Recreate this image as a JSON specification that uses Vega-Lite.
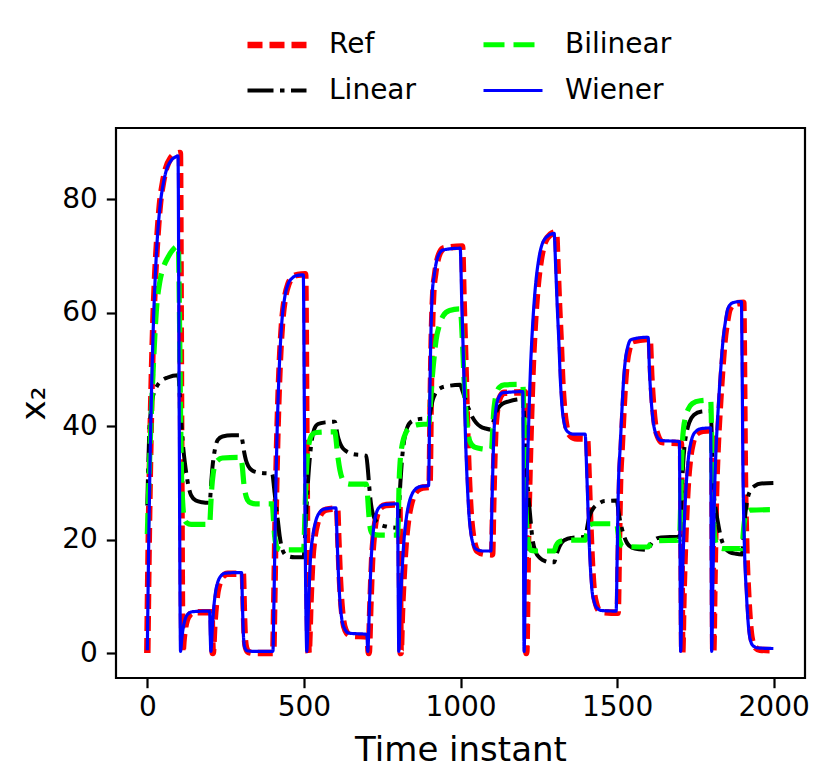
{
  "$schema": "https://vega.github.io/schema/vega-lite/v6.json",
  "description": "x2 trajectories: Ref, Linear, Bilinear and Wiener models",
  "width": 689,
  "height": 550,
  "autosize": {"type": "none"},
  "padding": {"left": 116, "top": 128, "right": 25, "bottom": 106},
  "background": "white",
  "data": {
    "values": [
      {"s":"Ref","t":0,"v":0},{"s":"Ref","t":5,"v":21.5},{"s":"Ref","t":10,"v":37.5},{"s":"Ref","t":15,"v":50},{"s":"Ref","t":20,"v":59.5},{"s":"Ref","t":25,"v":66.5},{"s":"Ref","t":30,"v":71.5},{"s":"Ref","t":40,"v":79},{"s":"Ref","t":50,"v":83},{"s":"Ref","t":60,"v":85.5},{"s":"Ref","t":75,"v":87.3},{"s":"Ref","t":90,"v":88},{"s":"Ref","t":104,"v":88.2},
      {"s":"Ref","t":108,"v":40},{"s":"Ref","t":111,"v":5},{"s":"Ref","t":112,"v":0},{"s":"Ref","t":116,"v":2.5},{"s":"Ref","t":121,"v":4.6},{"s":"Ref","t":126,"v":5.8},{"s":"Ref","t":136,"v":6.8},{"s":"Ref","t":150,"v":7.2},{"s":"Ref","t":205,"v":7.2},
      {"s":"Ref","t":207,"v":3},{"s":"Ref","t":209,"v":0},{"s":"Ref","t":214,"v":5},{"s":"Ref","t":219,"v":8.5},{"s":"Ref","t":224,"v":10.8},{"s":"Ref","t":231,"v":12.4},{"s":"Ref","t":241,"v":13.5},{"s":"Ref","t":256,"v":14},{"s":"Ref","t":305,"v":14},
      {"s":"Ref","t":308,"v":8},{"s":"Ref","t":311,"v":3},{"s":"Ref","t":315,"v":1},{"s":"Ref","t":323,"v":0.2},{"s":"Ref","t":340,"v":0},{"s":"Ref","t":402,"v":0},
      {"s":"Ref","t":405,"v":8},{"s":"Ref","t":410,"v":25},{"s":"Ref","t":415,"v":38},{"s":"Ref","t":420,"v":47},{"s":"Ref","t":425,"v":53.5},{"s":"Ref","t":430,"v":58},{"s":"Ref","t":440,"v":62.8},{"s":"Ref","t":450,"v":65},{"s":"Ref","t":465,"v":66.3},{"s":"Ref","t":480,"v":66.7},{"s":"Ref","t":504,"v":66.8},
      {"s":"Ref","t":508,"v":38},{"s":"Ref","t":511,"v":15},{"s":"Ref","t":514,"v":2},{"s":"Ref","t":515,"v":0},{"s":"Ref","t":521,"v":9},{"s":"Ref","t":527,"v":16.5},{"s":"Ref","t":534,"v":20.5},{"s":"Ref","t":543,"v":23},{"s":"Ref","t":556,"v":24.7},{"s":"Ref","t":571,"v":25.3},{"s":"Ref","t":606,"v":25.5},
      {"s":"Ref","t":610,"v":20},{"s":"Ref","t":615,"v":13},{"s":"Ref","t":620,"v":8.5},{"s":"Ref","t":625,"v":5.8},{"s":"Ref","t":633,"v":4},{"s":"Ref","t":648,"v":3.1},{"s":"Ref","t":704,"v":2.9},
      {"s":"Ref","t":707,"v":0},{"s":"Ref","t":712,"v":8},{"s":"Ref","t":718,"v":16.7},{"s":"Ref","t":723,"v":20.5},{"s":"Ref","t":728,"v":23},{"s":"Ref","t":735,"v":24.7},{"s":"Ref","t":744,"v":25.6},{"s":"Ref","t":763,"v":26.1},{"s":"Ref","t":805,"v":26.2},
      {"s":"Ref","t":807,"v":12},{"s":"Ref","t":809,"v":0},{"s":"Ref","t":813,"v":7},{"s":"Ref","t":818,"v":13},{"s":"Ref","t":825,"v":19.3},{"s":"Ref","t":833,"v":23.6},{"s":"Ref","t":841,"v":26},{"s":"Ref","t":851,"v":27.8},{"s":"Ref","t":862,"v":28.7},{"s":"Ref","t":880,"v":29.2},{"s":"Ref","t":901,"v":29.3},
      {"s":"Ref","t":905,"v":45},{"s":"Ref","t":908,"v":55},{"s":"Ref","t":913,"v":63.5},{"s":"Ref","t":919,"v":66.8},{"s":"Ref","t":927,"v":69.4},{"s":"Ref","t":935,"v":70.7},{"s":"Ref","t":948,"v":71.4},{"s":"Ref","t":1005,"v":71.7},
      {"s":"Ref","t":1010,"v":62},{"s":"Ref","t":1017,"v":48.5},{"s":"Ref","t":1022,"v":38},{"s":"Ref","t":1028,"v":29.3},{"s":"Ref","t":1033,"v":24.3},{"s":"Ref","t":1039,"v":21},{"s":"Ref","t":1046,"v":19},{"s":"Ref","t":1054,"v":18},{"s":"Ref","t":1076,"v":17.5},{"s":"Ref","t":1101,"v":17.4},
      {"s":"Ref","t":1104,"v":25},{"s":"Ref","t":1107,"v":32},{"s":"Ref","t":1111,"v":39},{"s":"Ref","t":1116,"v":42.5},{"s":"Ref","t":1124,"v":44.8},{"s":"Ref","t":1139,"v":45.9},{"s":"Ref","t":1206,"v":46},
      {"s":"Ref","t":1208,"v":22},{"s":"Ref","t":1210,"v":0},{"s":"Ref","t":1215,"v":17.8},{"s":"Ref","t":1220,"v":31},{"s":"Ref","t":1225,"v":41},{"s":"Ref","t":1230,"v":49.5},{"s":"Ref","t":1237,"v":57.5},{"s":"Ref","t":1246,"v":64.5},{"s":"Ref","t":1257,"v":69.5},{"s":"Ref","t":1269,"v":72.4},{"s":"Ref","t":1287,"v":73.8},{"s":"Ref","t":1305,"v":74.2},
      {"s":"Ref","t":1310,"v":68},{"s":"Ref","t":1315,"v":61},{"s":"Ref","t":1320,"v":55},{"s":"Ref","t":1325,"v":48},{"s":"Ref","t":1331,"v":43},{"s":"Ref","t":1338,"v":40},{"s":"Ref","t":1347,"v":38.6},{"s":"Ref","t":1365,"v":37.9},{"s":"Ref","t":1404,"v":37.8},
      {"s":"Ref","t":1409,"v":31.5},{"s":"Ref","t":1414,"v":23.5},{"s":"Ref","t":1419,"v":16.7},{"s":"Ref","t":1425,"v":11.3},{"s":"Ref","t":1433,"v":8.7},{"s":"Ref","t":1441,"v":7.6},{"s":"Ref","t":1457,"v":7.2},{"s":"Ref","t":1502,"v":7.1},
      {"s":"Ref","t":1505,"v":16},{"s":"Ref","t":1509,"v":29},{"s":"Ref","t":1515,"v":36.5},{"s":"Ref","t":1520,"v":42.3},{"s":"Ref","t":1525,"v":47.3},{"s":"Ref","t":1531,"v":51.3},{"s":"Ref","t":1539,"v":53.7},{"s":"Ref","t":1550,"v":55},{"s":"Ref","t":1604,"v":55.4},
      {"s":"Ref","t":1609,"v":49},{"s":"Ref","t":1614,"v":44.5},{"s":"Ref","t":1620,"v":40.8},{"s":"Ref","t":1630,"v":38.3},{"s":"Ref","t":1644,"v":37.2},{"s":"Ref","t":1704,"v":37},
      {"s":"Ref","t":1706,"v":18},{"s":"Ref","t":1708,"v":0},{"s":"Ref","t":1712,"v":10},{"s":"Ref","t":1717,"v":19},{"s":"Ref","t":1725,"v":29},{"s":"Ref","t":1733,"v":34.3},{"s":"Ref","t":1741,"v":36.9},{"s":"Ref","t":1754,"v":38.7},{"s":"Ref","t":1774,"v":39.2},{"s":"Ref","t":1804,"v":39.3},
      {"s":"Ref","t":1805.5,"v":18},{"s":"Ref","t":1807,"v":0},{"s":"Ref","t":1811,"v":13},{"s":"Ref","t":1816,"v":28},{"s":"Ref","t":1821,"v":36},{"s":"Ref","t":1827,"v":42.3},{"s":"Ref","t":1834,"v":48.5},{"s":"Ref","t":1843,"v":55},{"s":"Ref","t":1851,"v":58.4},{"s":"Ref","t":1859,"v":60.6},{"s":"Ref","t":1874,"v":61.6},{"s":"Ref","t":1903,"v":61.8},
      {"s":"Ref","t":1905,"v":52},{"s":"Ref","t":1908,"v":32},{"s":"Ref","t":1912,"v":20},{"s":"Ref","t":1919,"v":10},{"s":"Ref","t":1925,"v":4.8},{"s":"Ref","t":1930,"v":2.5},{"s":"Ref","t":1940,"v":1.1},{"s":"Ref","t":1955,"v":0.6},{"s":"Ref","t":1999,"v":0.5},

      {"s":"Linear","t":0,"v":26},{"s":"Linear","t":3,"v":33},{"s":"Linear","t":6,"v":38.5},{"s":"Linear","t":10,"v":42},{"s":"Linear","t":15,"v":44.5},{"s":"Linear","t":20,"v":45.7},{"s":"Linear","t":30,"v":47},{"s":"Linear","t":45,"v":48},{"s":"Linear","t":65,"v":48.6},{"s":"Linear","t":99,"v":49},
      {"s":"Linear","t":105,"v":44},{"s":"Linear","t":110,"v":39.5},{"s":"Linear","t":115,"v":36},{"s":"Linear","t":120,"v":33.5},{"s":"Linear","t":125,"v":31.5},{"s":"Linear","t":132,"v":29.3},{"s":"Linear","t":140,"v":27.8},{"s":"Linear","t":155,"v":26.9},{"s":"Linear","t":175,"v":26.6},{"s":"Linear","t":199,"v":26.5},
      {"s":"Linear","t":204,"v":30},{"s":"Linear","t":208,"v":32.8},{"s":"Linear","t":212,"v":34.6},{"s":"Linear","t":218,"v":36.5},{"s":"Linear","t":225,"v":37.6},{"s":"Linear","t":240,"v":38.2},{"s":"Linear","t":270,"v":38.4},{"s":"Linear","t":299,"v":38.4},
      {"s":"Linear","t":305,"v":37},{"s":"Linear","t":310,"v":35.2},{"s":"Linear","t":315,"v":34},{"s":"Linear","t":322,"v":33},{"s":"Linear","t":335,"v":32.2},{"s":"Linear","t":360,"v":31.8},{"s":"Linear","t":399,"v":31.6},
      {"s":"Linear","t":405,"v":29},{"s":"Linear","t":410,"v":26.5},{"s":"Linear","t":417,"v":23.3},{"s":"Linear","t":423,"v":20.5},{"s":"Linear","t":431,"v":18.3},{"s":"Linear","t":444,"v":17.2},{"s":"Linear","t":470,"v":16.9},{"s":"Linear","t":499,"v":16.9},
      {"s":"Linear","t":504,"v":21},{"s":"Linear","t":509,"v":26.5},{"s":"Linear","t":514,"v":31},{"s":"Linear","t":519,"v":34.5},{"s":"Linear","t":525,"v":37.5},{"s":"Linear","t":533,"v":39.5},{"s":"Linear","t":545,"v":40.4},{"s":"Linear","t":570,"v":40.7},{"s":"Linear","t":599,"v":40.8},
      {"s":"Linear","t":604,"v":39.5},{"s":"Linear","t":608,"v":38.3},{"s":"Linear","t":614,"v":37.2},{"s":"Linear","t":622,"v":36.3},{"s":"Linear","t":635,"v":35.6},{"s":"Linear","t":655,"v":35.1},{"s":"Linear","t":699,"v":34.8},
      {"s":"Linear","t":704,"v":32.5},{"s":"Linear","t":708,"v":29.8},{"s":"Linear","t":712,"v":27.3},{"s":"Linear","t":717,"v":25.3},{"s":"Linear","t":725,"v":23.8},{"s":"Linear","t":740,"v":22.8},{"s":"Linear","t":765,"v":22.3},{"s":"Linear","t":799,"v":22.1},
      {"s":"Linear","t":804,"v":26},{"s":"Linear","t":808,"v":30},{"s":"Linear","t":813,"v":34},{"s":"Linear","t":820,"v":37.5},{"s":"Linear","t":830,"v":39.8},{"s":"Linear","t":845,"v":40.9},{"s":"Linear","t":870,"v":41.3},{"s":"Linear","t":899,"v":41.4},
      {"s":"Linear","t":905,"v":43},{"s":"Linear","t":911,"v":44.6},{"s":"Linear","t":920,"v":45.8},{"s":"Linear","t":935,"v":46.7},{"s":"Linear","t":960,"v":47.1},{"s":"Linear","t":999,"v":47.3},
      {"s":"Linear","t":1006,"v":46.3},{"s":"Linear","t":1012,"v":45.3},{"s":"Linear","t":1017,"v":44.5},{"s":"Linear","t":1027,"v":43},{"s":"Linear","t":1038,"v":41.6},{"s":"Linear","t":1050,"v":40.6},{"s":"Linear","t":1065,"v":39.9},{"s":"Linear","t":1080,"v":39.6},{"s":"Linear","t":1099,"v":39.4},
      {"s":"Linear","t":1106,"v":41},{"s":"Linear","t":1113,"v":42.3},{"s":"Linear","t":1122,"v":43.3},{"s":"Linear","t":1135,"v":44},{"s":"Linear","t":1155,"v":44.4},{"s":"Linear","t":1180,"v":44.7},{"s":"Linear","t":1199,"v":44.8},
      {"s":"Linear","t":1204,"v":40.5},{"s":"Linear","t":1209,"v":34.5},{"s":"Linear","t":1215,"v":29},{"s":"Linear","t":1222,"v":24.5},{"s":"Linear","t":1229,"v":20.5},{"s":"Linear","t":1240,"v":17.8},{"s":"Linear","t":1255,"v":16.7},{"s":"Linear","t":1270,"v":16.2},{"s":"Linear","t":1285,"v":16},{"s":"Linear","t":1299,"v":16},
      {"s":"Linear","t":1306,"v":17.3},{"s":"Linear","t":1313,"v":18.4},{"s":"Linear","t":1322,"v":19.4},{"s":"Linear","t":1335,"v":20},{"s":"Linear","t":1355,"v":20.3},{"s":"Linear","t":1399,"v":20.5},
      {"s":"Linear","t":1404,"v":22},{"s":"Linear","t":1409,"v":23.5},{"s":"Linear","t":1415,"v":24.6},{"s":"Linear","t":1425,"v":25.6},{"s":"Linear","t":1440,"v":26.3},{"s":"Linear","t":1460,"v":26.8},{"s":"Linear","t":1499,"v":26.9},
      {"s":"Linear","t":1505,"v":24.8},{"s":"Linear","t":1510,"v":23.2},{"s":"Linear","t":1516,"v":21.8},{"s":"Linear","t":1523,"v":20.5},{"s":"Linear","t":1533,"v":19.3},{"s":"Linear","t":1548,"v":18.6},{"s":"Linear","t":1570,"v":18.3},{"s":"Linear","t":1599,"v":18.2},
      {"s":"Linear","t":1610,"v":19.4},{"s":"Linear","t":1620,"v":20},{"s":"Linear","t":1640,"v":20.4},{"s":"Linear","t":1699,"v":20.5},
      {"s":"Linear","t":1703,"v":24},{"s":"Linear","t":1707,"v":29},{"s":"Linear","t":1711,"v":33.5},{"s":"Linear","t":1716,"v":36.8},{"s":"Linear","t":1722,"v":38.9},{"s":"Linear","t":1730,"v":40.6},{"s":"Linear","t":1745,"v":42},{"s":"Linear","t":1770,"v":42.6},{"s":"Linear","t":1799,"v":42.7},
      {"s":"Linear","t":1803,"v":37},{"s":"Linear","t":1806,"v":31.5},{"s":"Linear","t":1810,"v":27.5},{"s":"Linear","t":1816,"v":25},{"s":"Linear","t":1822,"v":23},{"s":"Linear","t":1832,"v":20.3},{"s":"Linear","t":1843,"v":18.7},{"s":"Linear","t":1860,"v":17.8},{"s":"Linear","t":1880,"v":17.5},{"s":"Linear","t":1899,"v":17.4},
      {"s":"Linear","t":1904,"v":21},{"s":"Linear","t":1909,"v":24.3},{"s":"Linear","t":1917,"v":27.3},{"s":"Linear","t":1927,"v":28.8},{"s":"Linear","t":1940,"v":29.5},{"s":"Linear","t":1960,"v":29.9},{"s":"Linear","t":1999,"v":30},

      {"s":"Bilinear","t":0,"v":21},{"s":"Bilinear","t":4,"v":28},{"s":"Bilinear","t":8,"v":35},{"s":"Bilinear","t":13,"v":42.5},{"s":"Bilinear","t":20,"v":51.5},{"s":"Bilinear","t":29,"v":60.5},{"s":"Bilinear","t":40,"v":65.5},{"s":"Bilinear","t":50,"v":67.8},{"s":"Bilinear","t":66,"v":69.8},{"s":"Bilinear","t":80,"v":71},{"s":"Bilinear","t":99,"v":71.8},
      {"s":"Bilinear","t":103,"v":58},{"s":"Bilinear","t":106,"v":43},{"s":"Bilinear","t":109,"v":32},{"s":"Bilinear","t":113,"v":26.5},{"s":"Bilinear","t":118,"v":23.8},{"s":"Bilinear","t":125,"v":23},{"s":"Bilinear","t":140,"v":22.7},{"s":"Bilinear","t":199,"v":22.7},
      {"s":"Bilinear","t":203,"v":26.5},{"s":"Bilinear","t":206,"v":29.3},{"s":"Bilinear","t":210,"v":31.5},{"s":"Bilinear","t":216,"v":33.2},{"s":"Bilinear","t":225,"v":34},{"s":"Bilinear","t":240,"v":34.4},{"s":"Bilinear","t":299,"v":34.5},
      {"s":"Bilinear","t":304,"v":32.5},{"s":"Bilinear","t":308,"v":30},{"s":"Bilinear","t":313,"v":28.2},{"s":"Bilinear","t":320,"v":27},{"s":"Bilinear","t":330,"v":26.5},{"s":"Bilinear","t":350,"v":26.3},{"s":"Bilinear","t":399,"v":26.3},
      {"s":"Bilinear","t":403,"v":23.5},{"s":"Bilinear","t":406,"v":21},{"s":"Bilinear","t":410,"v":19.3},{"s":"Bilinear","t":416,"v":18.5},{"s":"Bilinear","t":430,"v":18.2},{"s":"Bilinear","t":499,"v":18.2},
      {"s":"Bilinear","t":503,"v":24},{"s":"Bilinear","t":506,"v":29.5},{"s":"Bilinear","t":509,"v":33},{"s":"Bilinear","t":513,"v":35.8},{"s":"Bilinear","t":518,"v":37.4},{"s":"Bilinear","t":526,"v":38.5},{"s":"Bilinear","t":540,"v":38.9},{"s":"Bilinear","t":599,"v":39},
      {"s":"Bilinear","t":603,"v":37.5},{"s":"Bilinear","t":606,"v":35.8},{"s":"Bilinear","t":610,"v":34},{"s":"Bilinear","t":615,"v":32.3},{"s":"Bilinear","t":622,"v":30.8},{"s":"Bilinear","t":632,"v":30},{"s":"Bilinear","t":650,"v":29.8},{"s":"Bilinear","t":699,"v":29.8},
      {"s":"Bilinear","t":703,"v":28},{"s":"Bilinear","t":706,"v":25.5},{"s":"Bilinear","t":709,"v":23.3},{"s":"Bilinear","t":713,"v":21.7},{"s":"Bilinear","t":720,"v":21},{"s":"Bilinear","t":740,"v":20.8},{"s":"Bilinear","t":799,"v":20.8},
      {"s":"Bilinear","t":802,"v":25},{"s":"Bilinear","t":804,"v":30},{"s":"Bilinear","t":807,"v":33.5},{"s":"Bilinear","t":811,"v":35.8},{"s":"Bilinear","t":816,"v":37.3},{"s":"Bilinear","t":825,"v":38.8},{"s":"Bilinear","t":840,"v":39.8},{"s":"Bilinear","t":865,"v":40.3},{"s":"Bilinear","t":899,"v":40.4},
      {"s":"Bilinear","t":904,"v":44},{"s":"Bilinear","t":908,"v":47.3},{"s":"Bilinear","t":912,"v":50},{"s":"Bilinear","t":917,"v":52.8},{"s":"Bilinear","t":922,"v":55.2},{"s":"Bilinear","t":932,"v":57.7},{"s":"Bilinear","t":945,"v":59.5},{"s":"Bilinear","t":965,"v":60.4},{"s":"Bilinear","t":999,"v":60.7},
      {"s":"Bilinear","t":1003,"v":58.5},{"s":"Bilinear","t":1006,"v":55},{"s":"Bilinear","t":1010,"v":50},{"s":"Bilinear","t":1014,"v":45.5},{"s":"Bilinear","t":1018,"v":42},{"s":"Bilinear","t":1023,"v":39.3},{"s":"Bilinear","t":1030,"v":37.3},{"s":"Bilinear","t":1045,"v":36.3},{"s":"Bilinear","t":1070,"v":36},{"s":"Bilinear","t":1099,"v":35.9},
      {"s":"Bilinear","t":1103,"v":39.5},{"s":"Bilinear","t":1106,"v":42.5},{"s":"Bilinear","t":1110,"v":44.5},{"s":"Bilinear","t":1116,"v":46},{"s":"Bilinear","t":1125,"v":46.9},{"s":"Bilinear","t":1140,"v":47.3},{"s":"Bilinear","t":1199,"v":47.4},
      {"s":"Bilinear","t":1203,"v":40},{"s":"Bilinear","t":1206,"v":32},{"s":"Bilinear","t":1209,"v":25.5},{"s":"Bilinear","t":1213,"v":21.3},{"s":"Bilinear","t":1218,"v":19},{"s":"Bilinear","t":1226,"v":18.1},{"s":"Bilinear","t":1245,"v":18},{"s":"Bilinear","t":1299,"v":18},
      {"s":"Bilinear","t":1305,"v":18.9},{"s":"Bilinear","t":1312,"v":19.5},{"s":"Bilinear","t":1325,"v":19.8},{"s":"Bilinear","t":1350,"v":19.9},{"s":"Bilinear","t":1399,"v":19.9},
      {"s":"Bilinear","t":1403,"v":21},{"s":"Bilinear","t":1407,"v":22},{"s":"Bilinear","t":1413,"v":22.6},{"s":"Bilinear","t":1425,"v":22.8},{"s":"Bilinear","t":1499,"v":22.8},
      {"s":"Bilinear","t":1503,"v":21.3},{"s":"Bilinear","t":1507,"v":20},{"s":"Bilinear","t":1512,"v":19.2},{"s":"Bilinear","t":1520,"v":18.8},{"s":"Bilinear","t":1599,"v":18.7},
      {"s":"Bilinear","t":1605,"v":19.1},{"s":"Bilinear","t":1612,"v":19.5},{"s":"Bilinear","t":1630,"v":19.8},{"s":"Bilinear","t":1699,"v":19.9},
      {"s":"Bilinear","t":1702,"v":24},{"s":"Bilinear","t":1704,"v":29},{"s":"Bilinear","t":1706,"v":33.5},{"s":"Bilinear","t":1709,"v":37.5},{"s":"Bilinear","t":1713,"v":40},{"s":"Bilinear","t":1718,"v":41.5},{"s":"Bilinear","t":1727,"v":43},{"s":"Bilinear","t":1740,"v":44},{"s":"Bilinear","t":1765,"v":44.5},{"s":"Bilinear","t":1799,"v":44.6},
      {"s":"Bilinear","t":1802,"v":38},{"s":"Bilinear","t":1804,"v":31},{"s":"Bilinear","t":1807,"v":25},{"s":"Bilinear","t":1810,"v":21.5},{"s":"Bilinear","t":1815,"v":19.5},{"s":"Bilinear","t":1822,"v":18.7},{"s":"Bilinear","t":1840,"v":18.4},{"s":"Bilinear","t":1899,"v":18.4},
      {"s":"Bilinear","t":1902,"v":20.5},{"s":"Bilinear","t":1905,"v":22.5},{"s":"Bilinear","t":1909,"v":24},{"s":"Bilinear","t":1915,"v":24.9},{"s":"Bilinear","t":1925,"v":25.2},{"s":"Bilinear","t":1999,"v":25.3},

      {"s":"Wiener","t":0,"v":0.5},{"s":"Wiener","t":5,"v":21.4},{"s":"Wiener","t":10,"v":37.5},{"s":"Wiener","t":15,"v":49.7},{"s":"Wiener","t":20,"v":59},{"s":"Wiener","t":25,"v":66},{"s":"Wiener","t":30,"v":71.4},{"s":"Wiener","t":40,"v":78.5},{"s":"Wiener","t":50,"v":82.5},{"s":"Wiener","t":60,"v":85},{"s":"Wiener","t":75,"v":86.8},{"s":"Wiener","t":90,"v":87.5},{"s":"Wiener","t":98,"v":87.7},
      {"s":"Wiener","t":102,"v":40},{"s":"Wiener","t":105,"v":5},{"s":"Wiener","t":106,"v":0.3},{"s":"Wiener","t":110,"v":2.5},{"s":"Wiener","t":115,"v":4.6},{"s":"Wiener","t":120,"v":5.8},{"s":"Wiener","t":130,"v":6.9},{"s":"Wiener","t":145,"v":7.3},{"s":"Wiener","t":199,"v":7.4},
      {"s":"Wiener","t":201,"v":3},{"s":"Wiener","t":203,"v":0.3},{"s":"Wiener","t":208,"v":5},{"s":"Wiener","t":213,"v":8.5},{"s":"Wiener","t":218,"v":10.8},{"s":"Wiener","t":225,"v":12.5},{"s":"Wiener","t":235,"v":13.6},{"s":"Wiener","t":250,"v":14.1},{"s":"Wiener","t":301,"v":14.2},
      {"s":"Wiener","t":304,"v":8},{"s":"Wiener","t":307,"v":3},{"s":"Wiener","t":311,"v":1},{"s":"Wiener","t":319,"v":0.4},{"s":"Wiener","t":340,"v":0.3},{"s":"Wiener","t":401,"v":0.3},
      {"s":"Wiener","t":404,"v":8},{"s":"Wiener","t":409,"v":25},{"s":"Wiener","t":414,"v":38},{"s":"Wiener","t":419,"v":47},{"s":"Wiener","t":424,"v":53.5},{"s":"Wiener","t":429,"v":58},{"s":"Wiener","t":439,"v":62.8},{"s":"Wiener","t":449,"v":65},{"s":"Wiener","t":464,"v":66.2},{"s":"Wiener","t":479,"v":66.6},{"s":"Wiener","t":498,"v":66.7},
      {"s":"Wiener","t":502,"v":38},{"s":"Wiener","t":505,"v":15},{"s":"Wiener","t":508,"v":2},{"s":"Wiener","t":509,"v":0.3},{"s":"Wiener","t":515,"v":9},{"s":"Wiener","t":521,"v":16.7},{"s":"Wiener","t":528,"v":20.5},{"s":"Wiener","t":537,"v":23.1},{"s":"Wiener","t":550,"v":24.8},{"s":"Wiener","t":565,"v":25.4},{"s":"Wiener","t":602,"v":25.6},
      {"s":"Wiener","t":606,"v":20},{"s":"Wiener","t":611,"v":13},{"s":"Wiener","t":616,"v":8.5},{"s":"Wiener","t":621,"v":6},{"s":"Wiener","t":629,"v":4.4},{"s":"Wiener","t":644,"v":3.5},{"s":"Wiener","t":701,"v":3.3},
      {"s":"Wiener","t":704,"v":0.3},{"s":"Wiener","t":709,"v":8},{"s":"Wiener","t":715,"v":16.7},{"s":"Wiener","t":720,"v":20.5},{"s":"Wiener","t":725,"v":23.1},{"s":"Wiener","t":732,"v":24.8},{"s":"Wiener","t":741,"v":25.7},{"s":"Wiener","t":760,"v":26.2},{"s":"Wiener","t":799,"v":26.3},
      {"s":"Wiener","t":801,"v":12},{"s":"Wiener","t":803,"v":0.3},{"s":"Wiener","t":807,"v":7},{"s":"Wiener","t":812,"v":13},{"s":"Wiener","t":819,"v":19.5},{"s":"Wiener","t":827,"v":23.8},{"s":"Wiener","t":835,"v":26.3},{"s":"Wiener","t":845,"v":28},{"s":"Wiener","t":856,"v":28.9},{"s":"Wiener","t":875,"v":29.4},{"s":"Wiener","t":898,"v":29.5},
      {"s":"Wiener","t":902,"v":45},{"s":"Wiener","t":905,"v":55},{"s":"Wiener","t":910,"v":63.5},{"s":"Wiener","t":916,"v":66.6},{"s":"Wiener","t":924,"v":69.2},{"s":"Wiener","t":932,"v":70.4},{"s":"Wiener","t":945,"v":71.1},{"s":"Wiener","t":999,"v":71.4},
      {"s":"Wiener","t":1004,"v":62},{"s":"Wiener","t":1011,"v":48.7},{"s":"Wiener","t":1016,"v":38},{"s":"Wiener","t":1022,"v":29.5},{"s":"Wiener","t":1027,"v":24.5},{"s":"Wiener","t":1033,"v":21.2},{"s":"Wiener","t":1040,"v":19.3},{"s":"Wiener","t":1048,"v":18.4},{"s":"Wiener","t":1070,"v":18},{"s":"Wiener","t":1097,"v":18},
      {"s":"Wiener","t":1100,"v":25},{"s":"Wiener","t":1103,"v":32},{"s":"Wiener","t":1107,"v":39},{"s":"Wiener","t":1112,"v":42.5},{"s":"Wiener","t":1120,"v":44.8},{"s":"Wiener","t":1135,"v":45.9},{"s":"Wiener","t":1199,"v":46.1},
      {"s":"Wiener","t":1201,"v":22},{"s":"Wiener","t":1203,"v":0.3},{"s":"Wiener","t":1208,"v":17.8},{"s":"Wiener","t":1213,"v":31},{"s":"Wiener","t":1218,"v":41},{"s":"Wiener","t":1223,"v":49.5},{"s":"Wiener","t":1230,"v":57.5},{"s":"Wiener","t":1239,"v":64.5},{"s":"Wiener","t":1250,"v":69.5},{"s":"Wiener","t":1262,"v":72.3},{"s":"Wiener","t":1280,"v":73.6},{"s":"Wiener","t":1299,"v":74},
      {"s":"Wiener","t":1304,"v":68},{"s":"Wiener","t":1309,"v":61},{"s":"Wiener","t":1314,"v":55},{"s":"Wiener","t":1319,"v":48},{"s":"Wiener","t":1325,"v":43},{"s":"Wiener","t":1332,"v":40.3},{"s":"Wiener","t":1341,"v":39.1},{"s":"Wiener","t":1360,"v":38.6},{"s":"Wiener","t":1398,"v":38.6},
      {"s":"Wiener","t":1403,"v":32},{"s":"Wiener","t":1408,"v":24},{"s":"Wiener","t":1413,"v":17},{"s":"Wiener","t":1419,"v":11.6},{"s":"Wiener","t":1427,"v":9},{"s":"Wiener","t":1435,"v":8},{"s":"Wiener","t":1451,"v":7.5},{"s":"Wiener","t":1497,"v":7.4},
      {"s":"Wiener","t":1500,"v":16},{"s":"Wiener","t":1504,"v":29},{"s":"Wiener","t":1510,"v":36.5},{"s":"Wiener","t":1515,"v":42.3},{"s":"Wiener","t":1520,"v":47.5},{"s":"Wiener","t":1526,"v":51.5},{"s":"Wiener","t":1534,"v":54},{"s":"Wiener","t":1545,"v":55.3},{"s":"Wiener","t":1599,"v":55.7},
      {"s":"Wiener","t":1604,"v":49},{"s":"Wiener","t":1609,"v":44.5},{"s":"Wiener","t":1615,"v":41},{"s":"Wiener","t":1625,"v":38.5},{"s":"Wiener","t":1640,"v":37.5},{"s":"Wiener","t":1699,"v":37.3},
      {"s":"Wiener","t":1701,"v":18},{"s":"Wiener","t":1703,"v":0.3},{"s":"Wiener","t":1707,"v":10},{"s":"Wiener","t":1712,"v":19},{"s":"Wiener","t":1720,"v":29},{"s":"Wiener","t":1728,"v":34.5},{"s":"Wiener","t":1736,"v":37.2},{"s":"Wiener","t":1750,"v":39},{"s":"Wiener","t":1770,"v":39.6},{"s":"Wiener","t":1799,"v":39.7},
      {"s":"Wiener","t":1800.5,"v":18},{"s":"Wiener","t":1802,"v":0.3},{"s":"Wiener","t":1806,"v":13},{"s":"Wiener","t":1811,"v":28},{"s":"Wiener","t":1816,"v":36},{"s":"Wiener","t":1822,"v":42.3},{"s":"Wiener","t":1829,"v":48.5},{"s":"Wiener","t":1838,"v":55},{"s":"Wiener","t":1846,"v":58.5},{"s":"Wiener","t":1854,"v":60.8},{"s":"Wiener","t":1870,"v":61.8},{"s":"Wiener","t":1897,"v":62},
      {"s":"Wiener","t":1899,"v":52},{"s":"Wiener","t":1902,"v":32},{"s":"Wiener","t":1906,"v":20},{"s":"Wiener","t":1913,"v":10.4},{"s":"Wiener","t":1919,"v":5},{"s":"Wiener","t":1924,"v":2.7},{"s":"Wiener","t":1934,"v":1.3},{"s":"Wiener","t":1950,"v":0.9},{"s":"Wiener","t":1999,"v":0.8}
    ]
  },
  "mark": {"type": "line", "interpolate": "monotone", "strokeCap": "butt", "clip": true},
  "encoding": {
    "x": {
      "field": "t",
      "type": "quantitative",
      "sort": null,
      "scale": {"domain": [-100, 2100], "nice": false, "zero": false},
      "axis": {
        "values": [0, 500, 1000, 1500, 2000],
        "format": "d",
        "title": "Time instant",
        "labelFontSize": 28,
        "titleFontSize": 34,
        "labelPadding": 6,
        "titlePadding": 12
      }
    },
    "y": {
      "field": "v",
      "type": "quantitative",
      "scale": {"domain": [-4.4, 92.6], "nice": false, "zero": false},
      "axis": {
        "values": [0, 20, 40, 60, 80],
        "format": "d",
        "title": "x₂",
        "labelFontSize": 28,
        "titleFontSize": 34,
        "labelPadding": 9,
        "titlePadding": 10
      }
    },
    "color": {
      "field": "s",
      "type": "nominal",
      "scale": {"domain": ["Ref", "Linear", "Bilinear", "Wiener"], "range": ["#ff0000", "#000000", "#00ff00", "#0000ff"]},
      "legend": {"title": null}
    },
    "strokeDash": {
      "field": "s",
      "type": "nominal",
      "scale": {"domain": ["Ref", "Linear", "Bilinear", "Wiener"], "range": [[15, 7], [26, 6.5, 4.5, 6.5], [21, 9], [1, 0]]},
      "legend": {"title": null}
    },
    "strokeWidth": {
      "field": "s",
      "type": "nominal",
      "scale": {"type": "ordinal", "domain": ["Ref", "Linear", "Bilinear", "Wiener"], "range": [6.5, 4, 5.2, 3.2]},
      "legend": {"title": null}
    }
  },
  "config": {
    "font": "DejaVu Sans",
    "view": {"stroke": "black", "strokeWidth": 2.2},
    "axis": {
      "domain": false,
      "grid": false,
      "tickColor": "black",
      "tickWidth": 2.2,
      "tickSize": 9.7,
      "labelColor": "black",
      "labelFont": "DejaVu Sans",
      "titleFont": "DejaVu Sans",
      "titleFontWeight": "normal",
      "titleColor": "black"
    },
    "legend": {
      "orient": "none",
      "legendX": 128,
      "legendY": -116,
      "columns": 2,
      "symbolType": "stroke",
      "symbolSize": 3481,
      "labelFont": "DejaVu Sans",
      "labelFontSize": 28,
      "labelColor": "black",
      "labelOffset": 19,
      "columnPadding": 56,
      "rowPadding": -18,
      "padding": 0
    }
  }
}
